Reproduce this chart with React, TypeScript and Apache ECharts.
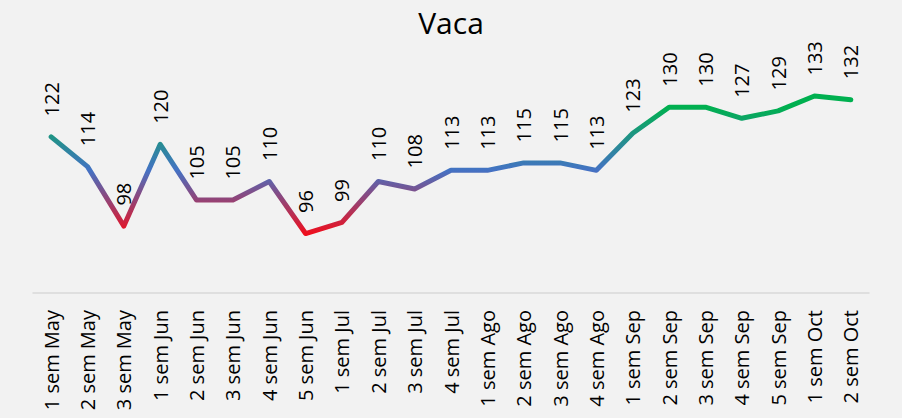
import React, { useEffect, useRef } from "react";
import * as echarts from "echarts";

const categories = [
  "1 sem May", "2 sem May", "3 sem May",
  "1 sem Jun", "2 sem Jun", "3 sem Jun", "4 sem Jun", "5 sem Jun",
  "1 sem Jul", "2 sem Jul", "3 sem Jul", "4 sem Jul",
  "1 sem Ago", "2 sem Ago", "3 sem Ago", "4 sem Ago",
  "1 sem Sep", "2 sem Sep", "3 sem Sep", "4 sem Sep", "5 sem Sep",
  "1 sem Oct", "2 sem Oct",
];

const values = [122, 114, 98, 120, 105, 105, 110, 96, 99, 110, 108, 113, 113, 115, 115, 113, 123, 130, 130, 127, 129, 133, 132];

const title = "Vaca";

export default function App() {
  const ref = useRef<HTMLDivElement>(null);
  useEffect(() => {
    document.body.style.margin = "0";
    if (!ref.current) return;
    const chart = echarts.init(ref.current, null, { renderer: "svg" });
    chart.setOption({
      animation: false,
      backgroundColor: "#f2f2f2",
      title: {
        text: title,
        left: "center",
        top: 2,
        textStyle: { fontFamily: "Open Sans", fontSize: 30, fontWeight: "normal", color: "#000" },
      },
      grid: { left: 33, right: 33, top: 70, bottom: 125, containLabel: false },
      xAxis: {
        type: "category",
        data: categories,
        boundaryGap: true,
        axisLine: { show: true, lineStyle: { color: "#d9d9d9", width: 1.5 } },
        axisTick: { show: false },
        axisLabel: {
          rotate: 90,
          interval: 0,
          margin: 17,
          fontFamily: "Open Sans",
          fontSize: 20,
          color: "#000",
        },
      },
      yAxis: {
        type: "value",
        min: 80,
        max: 140,
        show: false,
        splitLine: { show: false },
      },
      visualMap: {
        show: false,
        type: "continuous",
        dimension: 1,
        seriesIndex: 0,
        min: 96,
        max: 130,
        inRange: { color: ["#ee0f1e", "#4472c4", "#00b050"] },
      },
      series: [
        {
          type: "line",
          data: values,
          showSymbol: true,
          symbol: "circle",
          symbolSize: 1,
          lineStyle: { width: 5, cap: "round", join: "round" },
          label: {
            show: true,
            position: "top",
            rotate: 90,
            align: "left",
            verticalAlign: "middle",
            distance: 20,
            fontFamily: "Open Sans",
            fontSize: 20,
            color: "#000",
          },
        },
      ],
    });
    return () => chart.dispose();
  }, []);
  return <div ref={ref} style={{ width: 902, height: 418 }} />;
}
